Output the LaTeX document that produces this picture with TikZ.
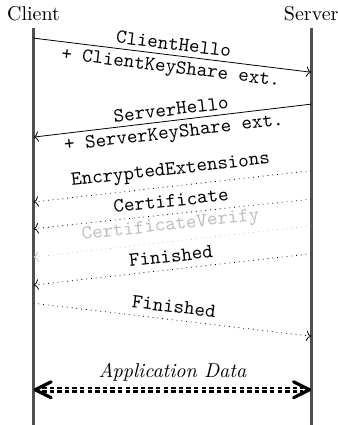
\documentclass[tikz,border=0pt]{standalone}
\usepackage{tikz}
\usetikzlibrary{arrows.meta,positioning,calc}
\definecolor{lifegray}{RGB}{80,80,80}
\definecolor{fadegray}{RGB}{190,190,190}
\tikzset{
  lifeline/.style={draw=lifegray, line width=1.3pt},
  party/.style   ={font=\normalsize, inner sep=3.3pt},
  msg/.style     ={->},
  encmsg/.style  ={msg, dotted},
  lbl/.style     ={font=\ttfamily, sloped},
  uplbl/.style   ={lbl, above, inner ysep=2.3pt},
  lowlbl/.style  ={lbl, below, inner ysep=2.3pt},
  appline/.style ={very thick, double, dash pattern=on 2.2pt off 1.6pt,
                   shorten <=0.12cm, shorten >=0.12cm},
  apptip/.style  ={line width=1.6pt, line cap=round, line join=round},
}

\begin{document}
\begin{tikzpicture}
  \useasboundingbox (0,0) rectangle (5.94,-7.47);
  % parties and lifelines
  \node[party, above] (client) at (0.59,-0.49) {Client};
  \node[party, above] (server) at (5.47,-0.49) {Server};
  \coordinate (clientEnd) at (0.59,-7.47);
  \coordinate (serverEnd) at (5.47,-7.47);
  \draw[lifeline](client.south)--(clientEnd);
  \draw[lifeline](server.south)--(serverEnd);
  % hello messages
  \coordinate (chC) at (0.59,-0.67);
  \coordinate (chS) at (5.47,-1.27);
  \draw[msg](chC)--node[uplbl]{ClientHello}
                   node[lowlbl]{+ ClientKeyShare ext.}(chS);
  \coordinate (shS) at (5.47,-1.83);
  \coordinate (shC) at (0.59,-2.41);
  \draw[msg](shS)--node[uplbl]{ServerHello}
                   node[lowlbl]{+ ServerKeyShare ext.}(shC);
  % encrypted server messages
  \coordinate (eeS) at (5.47,-3.00);
  \coordinate (eeC) at (0.59,-3.55);
  \draw[encmsg](eeS)--node[lbl,above]{EncryptedExtensions}(eeC);
  \coordinate (ceS) at (5.47,-3.50);
  \coordinate (ceC) at (0.59,-4.02);
  \draw[encmsg](ceS)--node[lbl,above]{Certificate}(ceC);
  \coordinate (cvS) at (5.47,-3.97);
  \coordinate (cvC) at (0.59,-4.52);
  \draw[encmsg,fadegray](cvS)--node[lbl,above]{CertificateVerify}(cvC);
  \coordinate (sfS) at (5.47,-4.46);
  \coordinate (sfC) at (0.59,-5.01);
  \draw[encmsg](sfS)--node[lbl,above]{Finished}(sfC);
  % client finished
  \coordinate (cfC) at (0.59,-5.33);
  \coordinate (cfS) at (5.47,-5.91);
  \draw[encmsg](cfC)--node[lbl,above]{Finished}(cfS);
  % application data
  \coordinate (adC) at (0.62,-6.85);
  \coordinate (adS) at (5.44,-6.85);
  \draw[appline](adC)--node[above,font=\itshape]{Application Data}(adS);
  \draw[apptip]($(adC)+(0.28,0.14)$)--(adC)--($(adC)+(0.28,-0.14)$);
  \draw[apptip]($(adS)+(-0.28,0.14)$)--(adS)--($(adS)+(-0.28,-0.14)$);
\end{tikzpicture}
\end{document}
